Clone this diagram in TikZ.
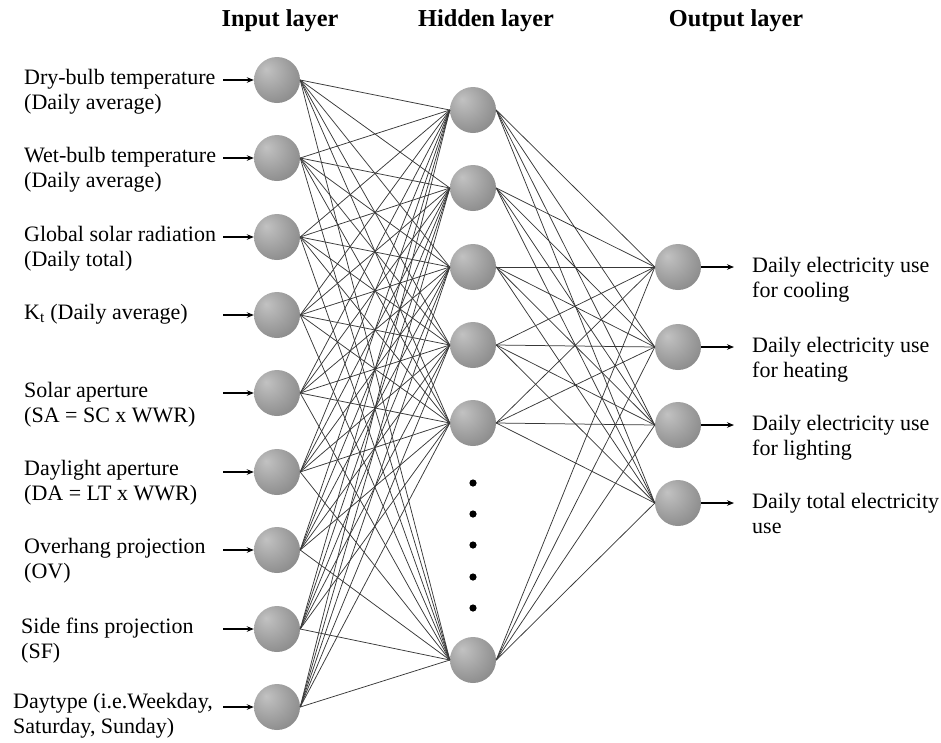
\documentclass[tikz,border=0pt]{standalone}
\usepackage{fontspec}
\setmainfont{Liberation Serif}
\usetikzlibrary{arrows.meta}
% grey sphere look: light spot up-left, darker rim
\pgfdeclareradialshading{sphere}{\pgfpoint{-12bp}{12bp}}{%
  color(0bp)=(black!24); color(22bp)=(black!38); color(45bp)=(black!52); color(70bp)=(black!60)}
\begin{document}
\begin{tikzpicture}[x=1pt,y=-1pt,
  neuron/.style={circle, minimum size=46pt, inner sep=0pt, shading=sphere},
  link/.style={draw=black!78, line width=0.75pt},
  arr/.style={draw=black, line width=1.1pt, -{Stealth[length=7pt,width=5.5pt]}},
  head/.style={font=\fontsize{24.3}{28}\selectfont\bfseries},
  lbl/.style={font=\fontsize{22}{25.5}\selectfont, align=left, inner sep=0pt, anchor=base west}]
\useasboundingbox (0,0) rectangle (941,742);

% layer titles
\node[head] (tin)  at (280,21) {Input layer};
\node[head] (thid) at (486,21) {Hidden layer};
\node[head] (tout) at (736,21) {Output layer};

% neurons
\foreach \y [count=\i] in {80,158,237,315,393,472,550,629,707}
  \node[neuron] (i\i) at (277,\y) {};
\foreach \y [count=\i] in {110,188,267,345,423,660}
  \node[neuron] (h\i) at (473,\y) {};
\foreach \y [count=\i] in {267,347,425,503}
  \node[neuron] (o\i) at (678,\y) {};

% omitted hidden neurons
\foreach \y in {483,514,545,577,608}
  \fill (473,\y) circle[radius=3.6pt];

% weights
\foreach \a in {1,...,9}
  \foreach \b in {1,...,6}
    \draw[link] (i\a.east) -- (h\b.west);
\foreach \a in {1,...,6}
  \foreach \b in {1,...,4}
    \draw[link] (h\a.east) -- (o\b.west);

% input arrows
\foreach \y [count=\i] in {80,158,237,315,393,472,550,629,707}
  \coordinate (s\i) at (223,\y);
\foreach \i in {1,...,9}
  \draw[arr] (s\i) -- (i\i.west);

% output arrows
\foreach \y [count=\i] in {267,347,425,503}
  \coordinate (t\i) at (734,\y);
\foreach \i in {1,...,4}
  \draw[arr] (o\i.east) -- (t\i);

% input labels (anchor = baseline of the last line)
\node[lbl] (l1) at (24,109.5) {Dry-bulb temperature\\(Daily average)};
\node[lbl] (l2) at (24,187.5) {Wet-bulb temperature\\(Daily average)};
\node[lbl] (l3) at (24,266.5) {Global solar radiation\\(Daily total)};
\node[lbl] (l4) at (24,319)   {K\textsubscript{t} (Daily average)};
\node[lbl] (l5) at (24,422.5) {Solar aperture\\(SA = SC x WWR)};
\node[lbl] (l6) at (24,500.5) {Daylight aperture\\(DA = LT x WWR)};
\node[lbl] (l7) at (24,578.5) {Overhang projection\\(OV)};
\node[lbl] (l8) at (21,658.5) {Side fins projection\\(SF)};
\node[lbl] (l9) at (13,733.5) {Daytype (i.e.Weekday,\\Saturday, Sunday)};

% output labels
\node[lbl] (r1) at (752,297.5) {Daily electricity use\\for cooling};
\node[lbl] (r2) at (752,377.5) {Daily electricity use\\for heating};
\node[lbl] (r3) at (752,455.5) {Daily electricity use\\for lighting};
\node[lbl] (r4) at (752,533.5) {Daily total electricity\\use};
\end{tikzpicture}
\end{document}
